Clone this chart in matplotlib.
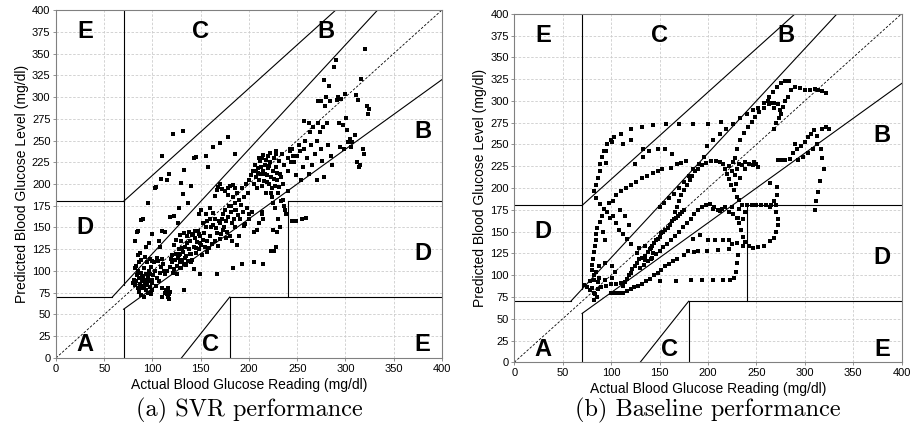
import matplotlib
matplotlib.use("Agg")
import matplotlib.pyplot as plt
import numpy as np

plt.rcParams['font.family'] = ['Liberation Sans', 'DejaVu Sans']

# SVR panel: (actual, predicted)
svr_points = [
    # low cluster
    (80, 86), (81, 90), (82, 84), (83, 88), (84, 95), (85, 80), (85, 100), (86, 92), (86, 76), (87, 85),
    (88, 98), (88, 72), (89, 88), (90, 80), (90, 94), (91, 104), (91, 70), (92, 86), (92, 90), (93, 97),
    (93, 78), (94, 84), (94, 110), (95, 92), (95, 75), (96, 88), (96, 100), (97, 82), (97, 96), (98, 73),
    (98, 105), (99, 90), (99, 112), (100, 78), (100, 86), (101, 95), (102, 110), (103, 100), (104, 83),
    (105, 92), (106, 112), (107, 88), (108, 98), (109, 105), (110, 80), (110, 114), (112, 100), (113, 96),
    (114, 78), (115, 74), (116, 70), (117, 68), (116, 80), (118, 76), (111, 108), (105, 115), (97, 114),
    (92, 116), (88, 113), (83, 106), (82, 103), (86, 110), (89, 93), (91, 83), (94, 89), (87, 81),
    # upper-left scatter
    (84, 145), (82, 135), (85, 146), (88, 159), (90, 160), (95, 178), (103, 195), (104, 196), (100, 143),
    (93, 128), (96, 132), (85, 118), (87, 121), (107, 135), (108, 128), (110, 146), (113, 145), (118, 162),
    (122, 163), (127, 172), (115, 205), (109, 206), (117, 212), (133, 216), (140, 198), (132, 188),
    (110, 232), (121, 257), (132, 261), (143, 230), (145, 231), (155, 232), (158, 219), (163, 243),
    (170, 247), (178, 254), (130, 201), (165, 186), (185, 234), (126, 155), (137, 178),
    # low outliers
    (133, 78), (149, 97), (167, 96), (183, 103), (193, 108), (205, 110), (215, 108), (223, 123),
    (228, 128), (226, 123), (110, 70), (113, 75), (116, 74), (117, 73),
    # middle cluster
    (115, 100), (118, 105), (120, 110), (120, 118), (121, 98), (122, 130), (123, 113), (124, 120),
    (125, 106), (126, 115), (127, 125), (128, 110), (129, 119), (130, 103), (130, 135), (131, 113),
    (132, 122), (133, 108), (134, 128), (135, 117), (136, 140), (137, 112), (138, 125), (139, 134),
    (140, 120), (141, 113), (142, 143), (143, 128), (144, 138), (145, 121), (146, 133), (147, 146),
    (148, 125), (149, 140), (150, 130), (151, 118), (152, 136), (153, 144), (154, 128), (155, 150),
    (156, 122), (157, 134), (158, 126), (160, 140), (161, 150), (159, 127), (143, 102), (140, 110),
    (135, 107), (128, 104), (125, 97), (124, 136), (129, 141), (133, 144), (138, 145), (144, 146),
    (148, 143), (152, 155), (155, 165), (160, 172), (150, 170), (148, 165), (163, 167), (165, 134),
    (167, 144), (170, 137), (168, 129), (162, 131), (119, 114), (122, 102), (127, 118), (134, 115),
    (139, 119), (145, 127), (149, 132), (136, 132), (131, 126), (141, 141),
    # band 150-200
    (170, 155), (172, 160), (173, 165), (174, 150), (175, 170), (176, 158), (177, 145), (178, 162),
    (179, 175), (180, 140), (181, 168), (182, 155), (183, 185), (184, 160), (185, 178), (186, 150),
    (187, 170), (188, 190), (189, 164), (190, 182), (191, 160), (192, 176), (193, 195), (194, 168),
    (195, 185), (196, 154), (197, 200), (198, 172), (199, 190), (200, 205), (167, 193), (168, 196),
    (172, 194), (175, 192), (178, 195), (180, 198), (183, 199), (170, 200), (186, 195), (190, 140),
    (195, 152), (200, 160), (200, 165), (203, 168), (205, 145), (208, 147), (210, 155), (213, 165),
    (188, 130), (182, 135), (176, 138), (171, 142), (165, 160), (163, 153), (160, 160), (157, 158),
    (178, 187), (181, 175), (185, 170), (166, 149), (169, 158), (173, 147),
    # dense cluster 200-240
    (202, 210), (204, 215), (205, 200), (206, 222), (207, 208), (208, 195), (209, 218), (210, 205),
    (211, 226), (212, 212), (213, 198), (214, 230), (215, 215), (216, 203), (217, 222), (218, 190),
    (219, 210), (220, 232), (220, 218), (221, 200), (222, 225), (223, 208), (224, 185), (225, 215),
    (226, 230), (227, 198), (228, 220), (229, 205), (230, 190), (231, 226), (232, 212), (233, 180),
    (234, 235), (235, 200), (236, 175), (237, 170), (238, 165), (236, 222), (228, 235), (222, 236),
    (215, 233), (210, 230), (225, 178), (227, 172), (230, 160), (232, 150), (229, 145), (225, 147),
    (215, 160), (213, 168), (209, 213), (219, 202), (224, 195), (231, 197), (233, 208), (240, 215),
    (240, 230), (242, 238), (244, 225), (246, 232), (217, 212), (221, 221), (226, 206), (212, 220),
    (207, 215), (223, 190), (229, 213), (218, 228),
    # upper-right
    (245, 240), (247, 225), (249, 210), (250, 232), (252, 245), (254, 205), (256, 220), (257, 240),
    (258, 250), (260, 230), (262, 212), (263, 260), (264, 245), (265, 222), (266, 265), (268, 235),
    (270, 250), (271, 205), (272, 270), (274, 260), (275, 240), (276, 227), (277, 265), (278, 208),
    (279, 290), (280, 300), (281, 270), (282, 245), (283, 313), (284, 295), (285, 232), (286, 222),
    (288, 335), (290, 342), (291, 296), (292, 300), (293, 270), (294, 243), (295, 298), (297, 268),
    (298, 240), (300, 303), (301, 276), (302, 262), (303, 248), (305, 252), (306, 242), (307, 248),
    (310, 256), (311, 302), (312, 225), (313, 296), (314, 220), (315, 222), (316, 321), (318, 240),
    (319, 234), (320, 355), (322, 290), (323, 280), (324, 286), (275, 295), (272, 295), (278, 320),
    (257, 272), (262, 270), (240, 192), (243, 240), (228, 238), (253, 238), (235, 182),
    (245, 157), (249, 158), (255, 160), (259, 161),
]

# Baseline panel
base_points = [
    # outer loop, upper left
    (82, 196), (84, 204), (86, 212), (88, 220), (88, 228), (91, 236), (93, 243), (96, 250), (100, 255),
    (103, 259), (110, 262), (121, 268), (132, 270), (143, 272), (157, 274), (170, 274), (185, 273),
    (200, 273), (213, 276), (84, 188), (89, 182), (93, 176), (91, 168), (88, 161), (85, 154), (84, 147),
    (84, 140), (83, 133), (82, 126), (81, 119), (80, 112), (80, 106), (82, 100),
    # second arc
    (95, 229), (95, 242), (101, 253), (112, 251), (121, 255), (125, 227), (133, 236), (133, 245),
    (139, 242), (148, 245), (156, 245), (163, 239), (162, 223), (168, 227), (172, 229), (177, 231),
    (98, 183), (102, 185), (105, 192), (110, 196), (115, 200), (120, 204), (126, 207), (132, 211),
    (137, 214), (143, 217), (148, 220), (153, 222),
    (102, 168), (105, 160), (108, 152), (112, 147), (116, 142), (120, 136), (96, 172), (99, 166),
    (109, 175), (114, 168), (118, 158), (92, 150), (94, 140),
    # path along upper line
    (150, 178), (155, 183), (160, 188), (165, 193), (170, 200), (175, 207), (180, 214), (185, 222),
    (191, 228), (196, 236), (199, 248), (205, 255), (212, 262), (219, 268), (226, 274), (233, 280),
    (240, 285), (246, 289), (252, 292), (258, 298), (263, 304), (267, 310), (271, 316), (275, 320),
    (280, 323), (284, 323),
    # right top arc and right side
    (290, 316), (295, 315), (300, 313), (305, 313), (310, 314), (314, 313), (318, 311), (322, 309),
    (286, 312), (283, 305), (280, 300), (277, 293), (275, 285), (273, 280), (270, 275), (268, 268),
    (262, 300), (265, 298), (268, 292),
    (290, 250), (292, 245), (296, 248), (300, 253), (303, 258), (306, 262), (309, 266), (313, 260),
    (318, 268), (322, 270), (325, 268), (288, 240), (293, 232), (298, 236), (303, 240), (308, 245),
    (313, 250), (317, 245), (318, 235), (320, 222), (316, 208), (314, 195), (312, 185), (310, 175),
    (272, 232), (278, 232), (285, 233),
    # inner loop
    (166, 172), (168, 178), (170, 185), (172, 192), (175, 198), (178, 204), (181, 209), (184, 214),
    (187, 219), (190, 222), (194, 226), (198, 229), (203, 231), (208, 231), (212, 230), (216, 228),
    (218, 222), (220, 216), (222, 210), (224, 204),
    (222, 225), (225, 220), (228, 215), (230, 222), (226, 230), (232, 228), (235, 226), (238, 230),
    (242, 228), (246, 226), (250, 228), (252, 224), (248, 230), (238, 222), (233, 212), (229, 205),
    (227, 198), (230, 190), (232, 186), (235, 180),
    (228, 235), (230, 245), (233, 255), (237, 263), (241, 270), (245, 276), (249, 282), (253, 287),
    (258, 292), (263, 296), (268, 298), (272, 296), (274, 290),
    # staircases
    (112, 88), (114, 92), (116, 96), (118, 100), (120, 103), (122, 107), (125, 110), (127, 114),
    (129, 118), (132, 120), (135, 122), (138, 126), (140, 130), (142, 134), (144, 137), (146, 140),
    (148, 142), (150, 144), (152, 148), (154, 150), (156, 152), (159, 154), (161, 158), (163, 162),
    (165, 164), (167, 166), (169, 168), (171, 170), (173, 172), (175, 175),
    (130, 108), (134, 112), (138, 116), (142, 120), (146, 124), (150, 128), (154, 132), (158, 136),
    (162, 140), (166, 145), (170, 150), (174, 155), (178, 160), (182, 165), (186, 170), (190, 175),
    (194, 178), (198, 180), (202, 182), (206, 178), (210, 175), (214, 176), (218, 178),
    # small circles
    (143, 125), (141, 131), (135, 133), (129, 131), (127, 125), (129, 119), (135, 117), (141, 119),
    (104, 104), (101, 111), (94, 114), (87, 111), (84, 104), (87, 97), (94, 94), (101, 97),
    # lower loops
    (72, 89), (75, 86), (78, 83), (82, 80), (86, 84), (90, 86), (95, 88), (100, 90), (105, 90),
    (110, 91), (78, 93), (82, 95), (86, 92), (82, 72), (85, 75), (83, 78), (80, 85),
    (100, 80), (104, 79), (108, 79), (112, 80), (116, 82), (120, 84), (124, 86), (128, 88),
    (132, 90), (136, 93), (140, 96), (144, 100), (148, 103), (152, 106), (156, 110), (160, 113),
    (164, 116), (168, 118),
    # lower right rows
    (150, 93), (167, 93), (182, 95), (194, 95), (205, 95), (215, 95), (223, 95), (227, 97),
    (229, 104), (230, 114), (231, 123),
    (175, 123), (179, 128), (186, 127), (190, 128), (199, 128), (210, 129), (222, 130), (225, 136),
    (185, 142), (192, 146), (200, 140), (207, 140), (215, 140), (222, 140), (230, 137), (236, 134),
    # D zone loop
    (240, 180), (245, 180), (250, 180), (255, 180), (260, 180), (265, 180), (270, 180), (270, 172),
    (272, 165), (272, 157), (270, 150), (268, 143), (264, 139), (258, 134), (252, 132), (246, 131),
    (242, 134), (238, 138), (236, 144), (234, 152), (232, 160), (230, 166), (226, 170), (222, 172),
    (205, 176), (212, 174), (225, 178), (232, 176), (238, 172), (231, 166), (236, 165),
    (271, 192), (268, 185), (264, 178), (271, 201), (264, 206), (274, 232), (279, 232),
]

svr_x, svr_y = np.array(svr_points).T
base_x, base_y = np.array(base_points).T

panels = [
    (svr_x, svr_y, '(a) SVR performance', [0.0614, 0.1919, 0.4232, 0.7855]),
    (base_x, base_y, '(b) Baseline performance', [0.5639, 0.1822, 0.4248, 0.7868]),
]

zone_labels = [
    ('E', 30, 375), ('C', 150, 375), ('B', 280, 375), ('B', 380, 260),
    ('D', 30, 150), ('D', 380, 120), ('A', 30, 15), ('C', 160, 15), ('E', 380, 15),
]

fig = plt.figure(figsize=(9.12, 4.43), dpi=100)

for xs, ys, caption, pos in panels:
    ax = fig.add_axes(pos)
    ax.set_xlim(0, 400)
    ax.set_ylim(0, 400)
    ax.set_xticks(np.arange(0, 401, 50))
    ax.set_yticks(np.arange(0, 401, 25))
    ax.grid(True, color='#cccccc', linestyle=(0, (3, 2)), linewidth=0.6)
    ax.set_axisbelow(True)
    for s in ax.spines.values():
        s.set_color('#808080')
        s.set_linewidth(0.8)
    ax.tick_params(labelsize=8, length=2.5, width=0.6, color='#808080', pad=1.5)

    # Clarke error grid zone lines
    lc = dict(color='black', linewidth=0.8)
    ax.plot([0, 400], [0, 400], color='black', linewidth=0.6, linestyle=(0, (3, 2)))
    ax.plot([0, 175 / 3], [70, 70], **lc)
    ax.plot([175 / 3, 400 / 1.2], [70, 400], **lc)
    ax.plot([70, 70], [84, 400], **lc)
    ax.plot([0, 70], [180, 180], **lc)
    ax.plot([70, 290], [180, 400], **lc)
    ax.plot([70, 70], [0, 56], **lc)
    ax.plot([70, 400], [56, 320], **lc)
    ax.plot([180, 180], [0, 70], **lc)
    ax.plot([180, 400], [70, 70], **lc)
    ax.plot([240, 240], [70, 180], **lc)
    ax.plot([240, 400], [180, 180], **lc)
    ax.plot([130, 180], [0, 70], **lc)

    ax.scatter(xs, ys, s=6, marker='s', color='black', linewidths=0, zorder=3)

    for lab, lx, ly in zone_labels:
        ax.text(lx, ly, lab, fontsize=17, fontweight='bold', ha='center', va='center')

    ax.set_xlabel('Actual Blood Glucose Reading (mg/dl)', fontsize=10, labelpad=3)
    ax.set_ylabel('Predicted Blood Glucose Level (mg/dl)', fontsize=10, labelpad=2)

    cx = pos[0] + pos[2] / 2
    fig.text(cx, 1 - 410 / 443, caption, family='cmr10', fontsize=17.5, ha='center', va='center')

fig.savefig('out.png', dpi=100)
